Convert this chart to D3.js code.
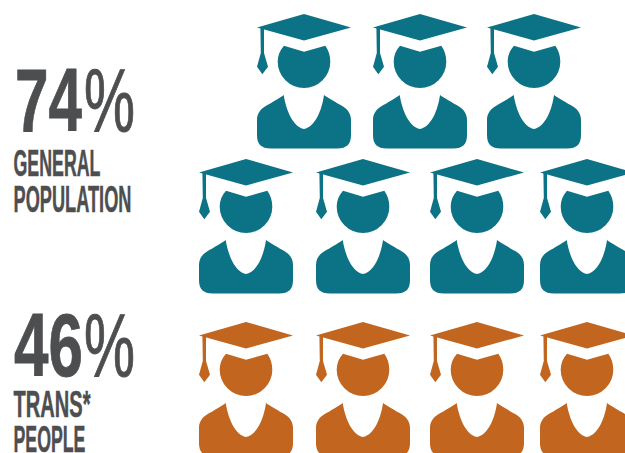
<!DOCTYPE html>
<html>
<head>
<meta charset="utf-8">
<script src="https://cdn.jsdelivr.net/npm/d3@7"></script>
<style>
html, body { margin: 0; padding: 0; background: #fff; overflow: hidden; }
svg { display: block; }
text { font-family: "Liberation Sans Narrow", "Liberation Sans", sans-serif; fill: #4d4e50; stroke: #4d4e50; }
</style>
</head>
<body>
<svg id="chart" width="625" height="453"></svg>
<script>
// one cap = 10 percent, rounded down
var groups = ["general", "trans"];
var percents = [74, 46];
var labelLines = [["GENERAL", "POPULATION"], ["TRANS*", "PEOPLE"]];
var iconsPerRow = [[3, 4], [4]];
var colors = ["#0c7285", "#c1651f"];

var svg = d3.select("#chart");

var color = d3.scaleOrdinal().domain(groups).range(colors);

// the rows of icons are not evenly spaced in the picture
var rowY = d3.scaleOrdinal().domain(["general0", "general1", "trans0"]).range([14, 159, 322]);
var colXWide = d3.scaleOrdinal().domain([0, 1, 2, 3]).range([199, 316, 430, 540]);
var colXNarrow = d3.scaleOrdinal().domain([0, 1, 2]).range([257, 373, 487]);

// icon outline, drawn at its own size
var capPath = "M0,13.5 L47,0 L94,13.5 L47,26.5 Z";
var tasselPath = "M3.4,13 L7,14.2 L7,39 L11,52.7 L5.3,60.3 L0,52.7 L3.8,39 Z";
var headPath = "M27,31.7 L47,37.7 L68.3,31.7 C71.5,36 73.3,41.5 73.3,47.7 A26.3,26.3 0 0 1 20.7,47.7 C20.7,41.5 23,36 27,31.7 Z";
var bodyPath = "M26.7,81 C29,96 36,113 47,115 C58,113 65,96 67,81 C71,84 80,89 86,92.5 C91,95.5 94,100 94,106 L94,121 C94,130 90,134.5 80,134.5 L14,134.5 C4,134.5 0,130 0,121 L0,106 C0,100 3,95.5 8,92.5 C14,89 23,84 26.7,81 Z";

var icons = [];
iconsPerRow.forEach(function(rows, g) {
	rows.forEach(function(n, r) {
		d3.range(n).forEach(function(c) {
			icons.push({group: groups[g], row: groups[g] + r, col: c, total: n});
		});
	});
});

var icon = svg.selectAll("g.icon")
	.data(icons)
	.enter().append("g")
	.attr("class", "icon")
	.attr("fill", function(d) { return color(d.group); })
	.attr("transform", function(d) {
		var x = d.total == 3 ? colXNarrow(d.col) : colXWide(d.col);
		return "translate(" + x + "," + rowY(d.row) + ")";
	});

[capPath, tasselPath, headPath, bodyPath].forEach(function(p) {
	icon.append("path").attr("d", p);
});

// squeeze a text sideways to the width it has in the picture
function fitText(sel, x, y, w) {
	var natural = sel.node().getComputedTextLength();
	sel.attr("transform", "translate(" + x + "," + y + ") scale(" + (w / natural) + ",1)");
}

// big numbers and labels
var numY = [131, 375.5];
var numX = [15, 14];
var numW = [67, 69];
var pctX = 84;
var pctW = 51;
var lineY = [[176, 211.5], [417, 451.5]];
var lineW = [[87, 118], [77, 72]];

groups.forEach(function(g, i) {
	var num = svg.append("text")
		.attr("font-size", 89)
		.attr("font-weight", "bold")
		.attr("stroke-width", 0.8)
		.text(percents[i]);
	fitText(num, numX[i], numY[i], numW[i]);
	var pct = svg.append("text")
		.attr("font-size", 89)
		.attr("stroke-width", 1)
		.text("%");
	fitText(pct, pctX, numY[i], pctW);
	labelLines[i].forEach(function(line, j) {
		var label = svg.append("text")
			.attr("font-size", 37)
			.attr("font-weight", "bold")
			.attr("stroke-width", 0.5)
			.text(line);
		fitText(label, 13.5, lineY[i][j], lineW[i][j]);
	});
});
</script>
</body>
</html>
